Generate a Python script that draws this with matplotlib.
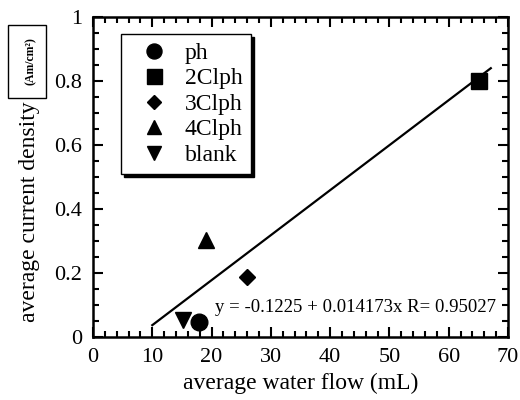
import matplotlib
matplotlib.use('Agg')
import matplotlib.pyplot as plt
from matplotlib.patches import Rectangle

plt.rcParams['font.family'] = ['Liberation Serif', 'DejaVu Serif']

#---  data  ---
names = ['ph', '2Clph', '3Clph', '4Clph', 'blank']
water_flow = [17.8, 65.1, 25.9, 19.0, 15.1]        # mL
current_density = [0.046, 0.80, 0.187, 0.303, 0.053]
markers = ['o', 's', 'D', '^', 'v']
marker_sizes = [12, 12, 8, 11, 11]

line_x = [10.0, 67.1]      # drawn fit line ends
line_y = [0.037, 0.840]
fit_text = 'y = -0.1225 + 0.014173x R= 0.95027'

xticks = [0, 10, 20, 30, 40, 50, 60, 70]
yticks = [0, 0.2, 0.4, 0.6, 0.8, 1.0]
ytick_labels = ['0', '0.2', '0.4', '0.6', '0.8', '1']

#--------------------------------------------
fig = plt.figure(figsize=(5.2, 4.0), dpi=100)
ax = fig.add_axes([93/520, 1 - 337/400, 415/520, 320/400])

for nm, xv, yv, mk, ms in zip(names, water_flow, current_density, markers, marker_sizes):
    ax.plot([xv], [yv], linestyle='none', marker=mk, markersize=ms,
            color='black', label=nm, zorder=3)

ax.plot(line_x, line_y, color='black', linewidth=1.6, zorder=2)
ax.text(20.6, 0.078, fit_text, fontsize=13.5, ha='left', va='baseline')

ax.set_xlim(0, 70)
ax.set_ylim(0, 1)
ax.set_xticks(xticks)
ax.set_xticklabels([str(v) for v in xticks])
ax.set_xticks(range(0, 71, 2), minor=True)
ax.set_yticks(yticks)
ax.set_yticklabels(ytick_labels)
ax.set_yticks([i*0.05 for i in range(21)], minor=True)
ax.tick_params(which='both', direction='in', top=True, right=True,
               width=1.5, labelsize=16, pad=8)
ax.tick_params(which='major', length=7)
ax.tick_params(which='minor', length=4)
for sp in ax.spines.values():
    sp.set_linewidth(1.8)

ax.set_xlabel('average water flow (mL)', fontsize=17, labelpad=4)

#---  y label with boxed unit  ---
fig.text(30/520, 1 - 212/400, 'average current density', rotation=90,
         fontsize=17, ha='center', va='center')
fig.patches.append(Rectangle((8/520, 1 - 98/400), 38/520, 73/400,
                             transform=fig.transFigure, fill=False,
                             edgecolor='black', linewidth=1.0))
fig.text(31/520, 1 - 61/400, '(Am/cm²)', rotation=90, fontsize=8.5,
         fontweight='bold', ha='center', va='center')

leg = ax.legend(loc='upper left', bbox_to_anchor=((121-93)/415, (337-34)/320),
                fontsize=17, frameon=True, fancybox=False, markerscale=0.9,
                shadow={'color': 'black', 'alpha': 1},
                handlelength=2.1, handletextpad=0.25, labelspacing=0.17,
                borderpad=0.35, borderaxespad=0)
leg.get_frame().set_edgecolor('black')
leg.get_frame().set_linewidth(1.0)
leg.get_frame().set_alpha(1)

plt.savefig('out.png', dpi=100)
